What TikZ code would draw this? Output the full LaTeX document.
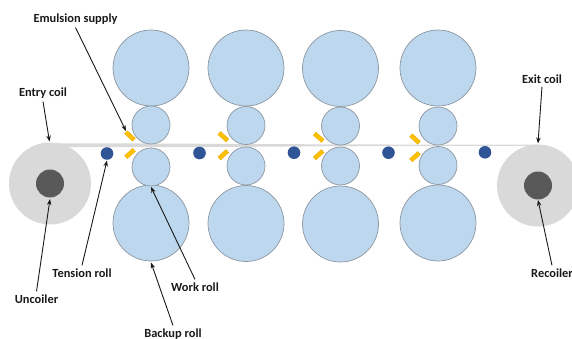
\documentclass[tikz,border=0pt]{standalone}
\usetikzlibrary{arrows.meta}
\usepackage{fontspec}
\setmainfont{Carlito}
\definecolor{rollfill}{HTML}{BDD7EE}
\definecolor{rolledge}{HTML}{8C96A0}
\definecolor{coilfill}{HTML}{D9D9D9}
\definecolor{corefill}{HTML}{595959}
\definecolor{tensfill}{HTML}{2F5597}
\definecolor{nozfill}{HTML}{FFC000}
\begin{document}
\begin{tikzpicture}[x=1pt,y=-1pt,
  roll/.style={circle,draw=rolledge,fill=rollfill,line width=0.7pt,inner sep=0pt,minimum size=#1},
  coil/.style={circle,fill=coilfill,inner sep=0pt,minimum size=82pt},
  core/.style={circle,fill=corefill,inner sep=0pt,minimum size=28pt},
  tens/.style={circle,fill=tensfill,inner sep=0pt,minimum size=12.6pt},
  noz/.style={rectangle,fill=nozfill,draw=nozfill!85!black,line width=0.2pt,inner sep=0pt,minimum width=11pt,minimum height=4.2pt,rotate=#1},
  lab/.style={font=\fontsize{12.4}{14}\selectfont\bfseries,inner sep=0pt,text=black!90},
  arr/.style={-{Stealth[length=6pt,width=4.5pt]},line width=0.9pt,black!90}]
\useasboundingbox (0,0) rectangle (572,339);
% coils
\node[coil] (entrycoil) at (50,183.5) {};
\node[coil] (exitcoil) at (538,185.5) {};
\node[core] (uncoiler) at (50,183.5) {};
\node[core] (recoiler) at (538,185.5) {};
% strip
\fill[coilfill] (50,143.3) -- (151,143.5) -- (246,144) -- (340,144.4) -- (438,144.6) -- (538,144.6)
  -- (538,146) -- (438,146) -- (340,146.3) -- (246,146.8) -- (151,147.2) -- (50,147.2) -- cycle;
% rolls
\foreach \n/\x/\ya/\yb/\yc/\yd in {1/151/68/125/167/223,2/246/68/125.5/166/223.5,3/340.5/68.5/126/166/224,4/438/68/126/165.5/223}{
  \node[roll=76pt] (bt\n) at (\x,\ya) {};
  \node[roll=76pt] (bb\n) at (\x,\yd) {};
  \node[roll=38pt] (wt\n) at (\x,\yb) {};
  \node[roll=38pt] (wb\n) at (\x,\yc) {};
}
% tension rolls
\node[tens] (t1) at (107,153.5) {};
\node[tens] (t2) at (199.5,153) {};
\node[tens] (t3) at (294,152.7) {};
\node[tens] (t4) at (388.5,152.7) {};
\node[tens] (t5) at (485,152.3) {};
% nozzles
\foreach \n/\x/\ya/\yb in {1/130/136/153.5,2/223.3/136.7/154.7,3/318.7/137.3/154.7,4/415/139/156.7}{
  \node[noz=-42] (nu\n) at (\x,\ya) {};
  \node[noz=42] (nl\n) at (\x,\yb) {};
}
% labels
\node[lab] (lemul) at (75.5,19) {Emulsion supply};
\node[lab] (lentry) at (43,93) {Entry coil};
\node[lab] (lexit) at (542,79) {Exit coil};
\node[lab] (ltens) at (82,273) {Tension roll};
\node[lab] (lunc) at (36.5,299) {Uncoiler};
\node[lab] (lwork) at (195,287) {Work roll};
\node[lab] (lback) at (173,334) {Backup roll};
\node[lab] (lrec) at (552,273) {Recoiler};
% arrow tips
\coordinate (temul) at (126,131);
\coordinate (tentry) at (49.5,141.5);
\coordinate (texit) at (538,143.5);
\coordinate (ttens) at (107,160.5);
\coordinate (tunc) at (50,199);
\coordinate (twork) at (151,187);
\coordinate (tback) at (151,262.5);
\coordinate (trec) at (538,200);
\draw[arr] ([yshift=-3pt]lemul.south) -- (temul);
\draw[arr] ([yshift=-3pt]lentry.south) -- (tentry);
\draw[arr] ([yshift=-3pt]lexit.south) -- (texit);
\draw[arr] ([yshift=3pt]ltens.north) -- (ttens);
\draw[arr] ([yshift=3pt]lunc.north) -- (tunc);
\draw[arr] ([yshift=3pt]lwork.north) -- (twork);
\draw[arr] ([yshift=3pt]lback.north) -- (tback);
\draw[arr] ([yshift=3pt]lrec.north) -- (trec);
\end{tikzpicture}
\end{document}
